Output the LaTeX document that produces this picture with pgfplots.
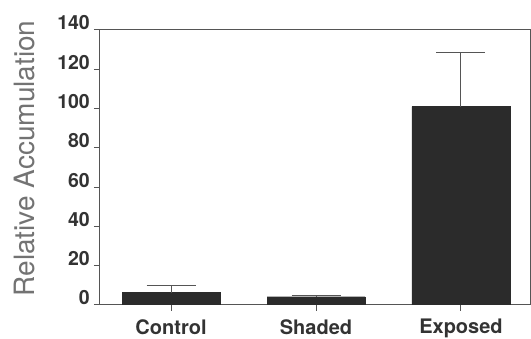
\documentclass[border=0pt]{standalone}
\usepackage{pgfplots}
\pgfplotsset{compat=1.18}
\usepackage{fontspec}
\setmainfont{TeX Gyre Heros}
\definecolor{barc}{HTML}{2B2B2B}
\definecolor{axc}{HTML}{555555}
\definecolor{txt}{HTML}{333333}
\begin{document}
\begin{tikzpicture}
\begin{axis}[
  scale only axis, width=431pt, height=275pt,
  xmin=-0.49, xmax=2.483, ymin=0, ymax=140,
  ytick={0,20,...,140},
  xtick={0,1,2}, xticklabels={Control,Shaded,Exposed},
  tick align=outside, major tick length=6pt,
  xtick pos=bottom, ytick pos=left,
  axis line style={color=axc, line width=1pt},
  tick style={color=axc, line width=1pt},
  /pgf/number format/assume math mode=true,
  yticklabel style={font=\bfseries\fontsize{19.5}{22}\selectfont, text=txt, anchor=base east, inner sep=0pt, xshift=-4pt},
  xticklabel style={font=\bfseries\fontsize{20}{24}\selectfont, text=txt, anchor=north, inner sep=0pt, yshift=-8pt},
  ylabel={Relative Accumulation},
  every axis y label/.style={at={(axis description cs:-0.176,0.533)}, rotate=90, anchor=center, font=\fontsize{28}{32}\selectfont, text=black!55},
]
\addplot[ybar, bar width=98pt, fill=barc, draw=barc,
  error bars/.cd, y dir=plus, y explicit,
  error bar style={line width=1pt, color=axc},
  error mark options={rotate=90, mark size=24.5pt, line width=1pt, color=axc}]
  coordinates {(0,6.3) +- (0,3.4) (1,4.2) +- (0,0.4) (2,101) +- (0,27.5)};
\end{axis}
\pgfresetboundingbox
\path[use as bounding box] (-100pt,-34pt) rectangle (431pt,305pt);
\end{tikzpicture}
\end{document}
